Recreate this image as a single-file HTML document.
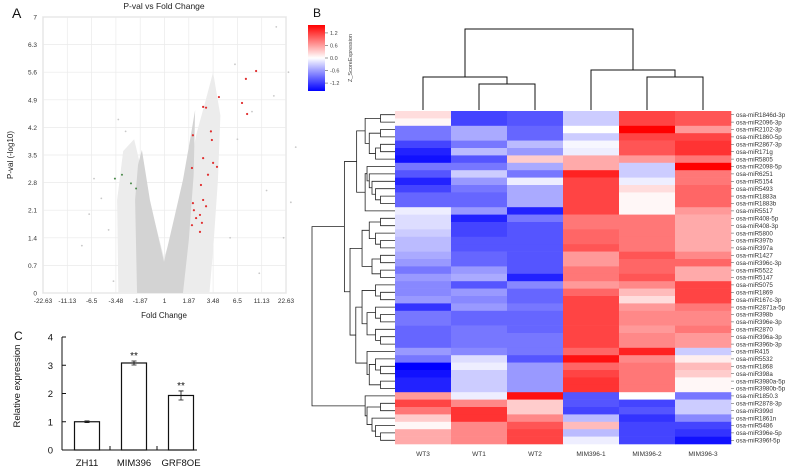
<!DOCTYPE html>
<html><head><meta charset="utf-8"><style>
html,body{margin:0;padding:0;background:#fff;}
svg{display:block;font-family:"Liberation Sans",sans-serif;}
</style></head><body>
<svg id="fig" width="800" height="470" viewBox="0 0 800 470">
<g id="volcano"></g>
<g id="heat"></g>
<g id="bars"></g>
</svg>
<script>
// ---------- Volcano data ----------
const vXTicks = ["-22.63","-11.13","-6.5","-3.48","-1.87","1","1.87","3.48","6.5","11.13","22.63"];
const vYTicks = [0,0.7,1.4,2.1,2.8,3.5,4.2,4.9,5.6,6.3,7];
// cloud boundaries as (tick-index position, -log10 p)
const cloudOuterX = [3.1,3.05,3.3,3.75,4.1,4.98,5.8,6.3,6.7,7.0,7.3,7.2,7.0,6.85];
const cloudOuterY = [0,2.36,3.6,3.9,3.0,0.9,2.4,4.0,4.9,5.6,4.5,2.87,1.09,0];
const cloudCoreX = [3.87,3.79,3.91,4.07,4.4,4.98,5.43,5.76,6.05,6.26,6.2,6.0,5.76];
const cloudCoreY = [0,2.36,3.25,3.63,2.36,0.79,1.98,2.87,3.88,4.64,3.0,1.34,0];
const redX = [8.77,8.35,8.19,8.4,7.24,6.59,6.71,6.91,6.17,6.95,6.59,7.0,7.16,6.13,6.79,6.5,6.59,6.17,6.71,6.21,6.46,6.3,6.13,6.54,6.46];
const redY = [5.63,5.43,4.82,4.54,4.97,4.72,4.7,4.1,4.0,3.88,3.42,3.3,3.2,3.17,3.0,2.74,2.36,2.28,2.2,2.1,1.98,1.9,1.72,1.78,1.55];
const greenX = [2.96,3.62,3.83,3.25];
const greenY = [2.9,2.78,2.65,3.0];
const scatterX = [9.6,10.1,9.2,8.6,8.0,7.7,9.9,10.4,2.4,2.1,1.9,2.7,3.1,8.9,9.5,7.9,10.2,2.9,3.4,1.6];
const scatterY = [6.75,5.6,2.6,4.6,3.9,1.4,1.4,3.7,2.4,2.9,2.0,1.6,4.4,0.5,5.0,5.8,2.3,0.3,4.1,1.2];

// ---------- Heatmap data ----------
const hmCols = ["WT3","WT1","WT2","MIM396-1","MIM396-2","MIM396-3"];
const hmRows = ["osa-miR1846d-3p","osa-miR2096-3p","osa-miR2102-3p","osa-miR1860-5p","osa-miR2867-3p","osa-miR171g","osa-miR5805","osa-miR2098-5p","osa-miR6251","osa-miR5154","osa-miR5493","osa-miR1883a","osa-miR1883b","osa-miR5517","osa-miR408-5p","osa-miR408-3p","osa-miR5800","osa-miR397b","osa-miR397a","osa-miR1427","osa-miR396c-3p","osa-miR5522","osa-miR5147","osa-miR5075","osa-miR1869","osa-miR167c-3p","osa-miR2871a-5p","osa-miR398b","osa-miR396e-3p","osa-miR2870","osa-miR396a-3p","osa-miR396b-3p","osa-miR415","osa-miR5532","osa-miR1868","osa-miR398a","osa-miR3980a-5p","osa-miR3980b-5p","osa-miR1850.3","osa-miR2878-3p","osa-miR399d","osa-miR1861n","osa-miR5486","osa-miR396e-5p","osa-miR396f-5p"];
const zWT3 = [0.2,0.05,-0.8,-0.8,-1.1,-1.3,-1.4,-0.8,-1.0,-1.3,-1.1,-0.9,-0.9,-0.1,-0.2,-0.2,-0.3,-0.4,-0.4,-0.5,-0.6,-0.8,-0.6,-0.7,-0.7,-0.6,-1.2,-0.8,-0.8,-0.9,-0.9,-0.9,-0.6,-0.8,-1.5,-1.4,-1.3,-1.3,0.6,1.1,0.8,0.3,0.05,0.5,0.5];
const zWT1 = [-1.1,-1.1,-0.5,-0.5,-0.8,-0.4,-1.0,-0.8,-0.3,-0.6,-0.8,-0.9,-0.9,-0.6,-1.3,-1.1,-1.1,-1.0,-1.0,-0.9,-0.9,-0.6,-0.5,-1.0,-0.6,-0.7,-0.6,-0.9,-0.9,-0.8,-0.8,-0.8,-0.7,-0.2,-0.1,-0.3,-0.3,-0.3,-0.1,0.7,1.2,1.2,0.7,0.7,0.7];
const zWT2 = [-1.0,-1.0,-0.9,-0.9,-0.4,-0.6,0.3,-0.5,-0.8,-0.1,-0.5,-0.5,-0.5,-1.3,-0.8,-1.0,-1.0,-1.0,-1.0,-1.0,-1.0,-1.0,-1.3,-0.7,-0.9,-0.9,-0.8,-0.9,-0.9,-0.9,-0.8,-0.8,-0.8,-1.0,-0.6,-0.6,-0.6,-0.6,1.4,0.3,0.3,0.7,1.0,1.1,1.1];
const zMIM1 = [-0.3,-0.3,0,-0.3,-0.05,-0.1,0.5,0.5,1.3,1.1,1.1,1.1,1.1,1.1,0.8,0.8,0.9,0.9,1.0,0.6,0.6,0.8,0.8,0.6,0.9,1.1,1.1,1.1,1.1,1.1,1.1,1.1,0.9,1.4,0.9,1.1,1.2,1.2,-1.0,-1.0,-1.1,-0.4,0.4,-0.4,-0.1];
const zMIM2 = [1.1,1.1,1.5,1.1,1.0,1.0,0.6,-0.3,-0.3,-0.1,0.2,0.05,0.05,0.05,0.8,0.8,0.8,0.8,0.8,1.0,0.9,0.9,1.0,0.7,0.4,0.2,0.6,0.7,0.7,0.6,0.7,0.7,1.3,0.7,0.8,0.8,0.8,0.8,0,-1.1,-1.0,-1.2,-1.1,-1.1,-1.1];
const zMIM3 = [1.0,1.0,0.6,1.1,1.2,1.2,0.8,1.5,0.8,0.8,0.9,0.9,0.9,0.6,0.5,0.5,0.5,0.5,0.5,0.7,0.9,0.5,0.5,1.1,1.1,1.1,0.8,0.7,0.7,0.8,0.6,0.6,-0.3,0.1,0.4,0.3,0.05,0.05,-0.8,-0.3,-0.3,-0.7,-1.1,-1.2,-1.4];
const cbTicks = [1.2,0.6,0.0,-0.6,-1.2];

// ---------- Bar data ----------
const barCats = ["ZH11","MIM396","GRF8OE"];
const barVals = [1.0,3.08,1.93];
const barErr = [0.03,0.07,0.16];
const barSig = ["","**","**"];
const barYTicks = [0,1,2,3,4];

const NS="http://www.w3.org/2000/svg";
function mk(tag,attrs,parent,text){const e=document.createElementNS(NS,tag);for(const k in attrs)e.setAttribute(k,attrs[k]);if(text!==undefined)e.textContent=text;parent.appendChild(e);return e;}

// ===== Volcano =====
(function(){
const g=document.getElementById('volcano');
const L=43,R=286,T=17,B=293;
const vx=i=>L+(R-L)*i/(vXTicks.length-1);
const vy=p=>B-(B-T)*p/7;
let e=mk('text',{x:12,y:18,'font-size':14,fill:'#111'},g,'A');

e=mk('text',{x:164,y:9,'font-size':8.5,'text-anchor':'middle',fill:'#222'},g,'P-val vs Fold Change');

mk('rect',{x:L,y:T,width:R-L,height:B-T,fill:'#fff',stroke:'#aaa','stroke-width':0.8},g);
vXTicks.forEach((t,i)=>{
  mk('line',{x1:vx(i),x2:vx(i),y1:T,y2:B,stroke:'#eaeaea','stroke-width':0.7},g);
  const tx=mk('text',{x:vx(i),y:303,'font-size':6.5,'text-anchor':'middle',fill:'#333'},g,t);
  
});
vYTicks.forEach(p=>{
  mk('line',{x1:L,x2:R,y1:vy(p),y2:vy(p),stroke:'#eaeaea','stroke-width':0.7},g);
  const tx=mk('text',{x:37,y:vy(p)+2.5,'font-size':6.5,'text-anchor':'end',fill:'#333'},g,String(p));
  
});
const poly=(xs,ys)=>xs.map((x,i)=>vx(x)+','+vy(ys[i])).join(' ');
e=mk('polygon',{points:poly(cloudOuterX,cloudOuterY),fill:'#ececec'},g);

e=mk('polygon',{points:poly(cloudCoreX,cloudCoreY),fill:'#d3d3d3'},g);

scatterX.forEach((x,i)=>{const c=mk('circle',{cx:vx(x),cy:vy(scatterY[i]),r:0.9,fill:'#c8c8c8'},g);
 });
greenX.forEach((x,i)=>{const c=mk('circle',{cx:vx(x),cy:vy(greenY[i]),r:1,fill:'#4a8a4a'},g);
 });
redX.forEach((x,i)=>{const c=mk('circle',{cx:vx(x),cy:vy(redY[i]),r:1.1,fill:'#e03030'},g);
 });
e=mk('text',{x:164,y:318,'font-size':8,'text-anchor':'middle',fill:'#222'},g,'Fold Change');

e=mk('text',{x:0,y:0,'font-size':8,'text-anchor':'middle',fill:'#222',transform:'translate(13,155) rotate(-90)'},g,'P-val (-log10)');

})();

// ===== Heatmap =====
(function(){
const g=document.getElementById('heat');
const X0=395,CW=56,Y0=111,RH=(444-111)/hmRows.length;
const cols=[zWT3,zWT1,zWT2,zMIM1,zMIM2,zMIM3];
function col(z){z=Math.max(-1.5,Math.min(1.5,z));const t=Math.abs(z)/1.5;const v=Math.round(255*(1-t));
 return z>=0?`rgb(255,${v},${v})`:`rgb(${v},${v},255)`;}
let e=mk('text',{x:313,y:17,'font-size':12,fill:'#111'},g,'B');

const defs=mk('defs',{},g);const lg=mk('linearGradient',{id:'cb',x1:0,y1:0,x2:0,y2:1},defs);
mk('stop',{offset:'0','stop-color':'#ff0000'},lg);mk('stop',{offset:'0.5','stop-color':'#ffffff'},lg);mk('stop',{offset:'1','stop-color':'#0000ff'},lg);
e=mk('rect',{x:308,y:25,width:17,height:66,fill:'url(#cb)'},g);

const cby=z=>58-z/1.5*33*0.95;
cbTicks.forEach(z=>{mk('line',{x1:325,x2:328,y1:cby(z),y2:cby(z),stroke:'#555','stroke-width':0.6},g);
 const t=mk('text',{x:330,y:cby(z)+2,'font-size':5.5,fill:'#444'},g,z.toFixed(1));
 });
e=mk('text',{x:0,y:0,'font-size':5.5,'text-anchor':'middle',fill:'#444',transform:'translate(352,58) rotate(-90)'},g,'Z_ScoreExpression');

cols.forEach((arr,c)=>arr.forEach((z,r)=>{
 const rc=mk('rect',{x:X0+c*CW,y:Y0+r*RH,width:CW+0.3,height:RH+0.3,fill:col(z)},g);
 
}));
hmRows.forEach((n,r)=>{const y=Y0+(r+0.5)*RH;
 mk('line',{x1:731,x2:734,y1:y,y2:y,stroke:'#444','stroke-width':0.5},g);
 const t=mk('text',{x:736,y:y+2.2,'font-size':6.2,fill:'#333'},g,n);
 });
hmCols.forEach((n,c)=>{const t=mk('text',{x:X0+(c+0.5)*CW,y:456,'font-size':6.5,'text-anchor':'middle',fill:'#333'},g,n);
 });
const cx=i=>X0+(i+0.5)*CW;const dg=mk('g',{stroke:'#111','stroke-width':1,fill:'none'},g);

const P=d=>mk('path',{d:d},dg);
P(`M${cx(1)},110V84H${cx(2)}V110`);
const m12=(cx(1)+cx(2))/2;
P(`M${cx(0)},110V77H${m12}V84`);
P(`M${cx(4)},110V77H${cx(5)}V110`);
const m45=(cx(4)+cx(5))/2;
P(`M${cx(3)},110V70H${m45}V77`);
const mL=(cx(0)+m12)/2,mR=(cx(3)+m45)/2;
P(`M${mL},77V29H${mR}V70`);
const rg=mk('g',{stroke:'#222','stroke-width':0.8,fill:'none'},g);

const tree=[[[[[0,1],[[2,3],[[4,5],6]]],[[7,[8,[9,[10,[11,12]]]]],13]],
 [[[[14,15],[16,[17,18]]],[[19,20],[21,22]]],[[[23,[24,25]],[[26,[27,28]],[29,[30,31]]]],[32,[[33,[34,35]],[36,37]]]]]],
 [38,[[39,40],[41,[42,[43,44]]]]]];
function cnt(n){return Array.isArray(n)?cnt(n[0])+cnt(n[1]):1;}
function draw(n,root){
 if(!Array.isArray(n))return{x:395,y:Y0+(n+0.5)*RH};
 const a=draw(n[0]),b=draw(n[1]);
 const x=root?312:395-6-8.5*Math.log2(cnt(n));
 mk('path',{d:`M${a.x},${a.y}H${x}V${b.y}H${b.x}`},rg);
 return{x:x,y:(a.y+b.y)/2};}
draw(tree,true);
})();

// ===== Bars =====
(function(){
const g=document.getElementById('bars');
const L=62,R=197,B=450,T=337;
const by=v=>B-(B-T)*v/4;
const bx=i=>87+i*47;
let e=mk('text',{x:14,y:340,'font-size':12,fill:'#111'},g,'C');

mk('line',{x1:L,x2:L,y1:T,y2:B,stroke:'#111','stroke-width':1},g);
mk('line',{x1:L,x2:R,y1:B,y2:B,stroke:'#111','stroke-width':1},g);
[110,157].forEach(x=>mk('line',{x1:x,x2:x,y1:B,y2:B-4,stroke:'#111','stroke-width':1},g));
barYTicks.forEach(v=>{mk('line',{x1:L,x2:L+4,y1:by(v),y2:by(v),stroke:'#111','stroke-width':1},g);
 const t=mk('text',{x:53,y:by(v)+3.5,'font-size':9.5,'text-anchor':'end',fill:'#111'},g,String(v));
 });
barCats.forEach((c,i)=>{
 const r=mk('rect',{x:bx(i)-12.5,y:by(barVals[i]),width:25,height:B-by(barVals[i]),fill:'#fff',stroke:'#111','stroke-width':1.2},g);
 
 const e1=by(barVals[i]+barErr[i]),e2=by(barVals[i]-barErr[i]);
 mk('path',{d:`M${bx(i)-2.5},${e1}H${bx(i)+2.5}M${bx(i)},${e1}V${e2}M${bx(i)-2.5},${e2}H${bx(i)+2.5}`,stroke:'#111','stroke-width':0.8,fill:'none'},g);
 if(barSig[i]){const s=mk('text',{x:bx(i),y:e1-2,'font-size':10,'text-anchor':'middle',fill:'#111'},g,barSig[i]);
  }
 const t=mk('text',{x:bx(i),y:466,'font-size':9.5,'text-anchor':'middle',fill:'#111'},g,c);
 
});
e=mk('text',{x:0,y:0,'font-size':9.5,'text-anchor':'middle',fill:'#111',transform:'translate(20,386) rotate(-90)'},g,'Relative expression');

})();
</script>
</body></html>
